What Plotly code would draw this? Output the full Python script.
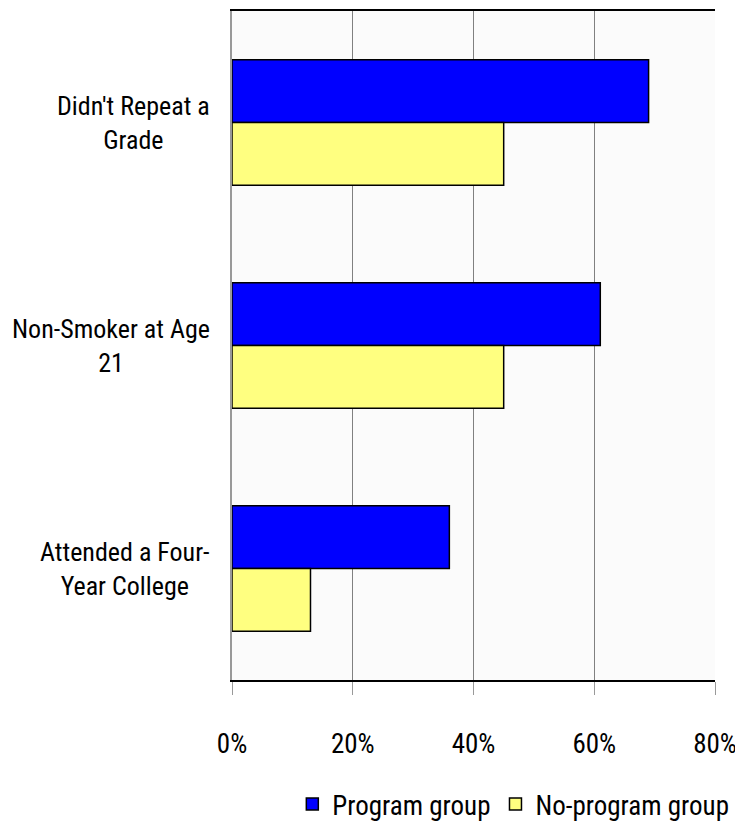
import plotly.graph_objects as go

categories = ["Didn't Repeat a<br>Grade", "Non-Smoker at Age<br>21", "Attended a Four-<br>Year College"]
program_group = [69, 61, 36]
no_program_group = [45, 45, 13]
x_ticks = [0, 20, 40, 60, 80]
x_tick_labels = ["0%", "20%", "40%", "60%", "80%"]

FONT = "Roboto Condensed, Liberation Sans, Arial, sans-serif"

fig = go.Figure()
fig.add_trace(go.Bar(y=categories, x=program_group, orientation="h", name="Program group",
                     marker=dict(color="#0000FF", line=dict(color="black", width=1.5))))
fig.add_trace(go.Bar(y=categories, x=no_program_group, orientation="h", name="No-program group",
                     marker=dict(color="#FFFF80", line=dict(color="black", width=1.5))))

for c in categories:
    fig.add_annotation(text=c, xref="paper", yref="y", x=-0.0414, y=c, xanchor="right",
                       align="center", showarrow=False, font=dict(size=26, color="black", family=FONT))

fig.update_layout(
    width=735, height=823,
    margin=dict(l=224, r=28, t=1, b=151),
    paper_bgcolor="white", plot_bgcolor="#FBFBFB",
    barmode="group", bargap=0.437, bargroupgap=0,
    font=dict(family=FONT, color="black"),
    showlegend=True,
    legend=dict(orientation="h", x=1.04, xanchor="right", y=-0.186, yanchor="middle",
                font=dict(size=27, family=FONT), traceorder="normal", itemwidth=30,
                bgcolor="rgba(0,0,0,0)"),
)
fig.update_xaxes(range=[0, 80], tickvals=x_ticks, ticktext=x_tick_labels,
                 showgrid=True, gridcolor="#808080", gridwidth=1,
                 showline=True, linecolor="black", linewidth=1.5, mirror=True,
                 ticks="outside", ticklen=13, tickcolor="#999999", tickwidth=1,
                 ticklabelstandoff=26, tickfont=dict(size=27, family=FONT), zeroline=False)
fig.update_yaxes(autorange="reversed", showticklabels=False, showgrid=False,
                 showline=True, linecolor="#999999", linewidth=2, ticks="")

fig.write_html("out.html")
